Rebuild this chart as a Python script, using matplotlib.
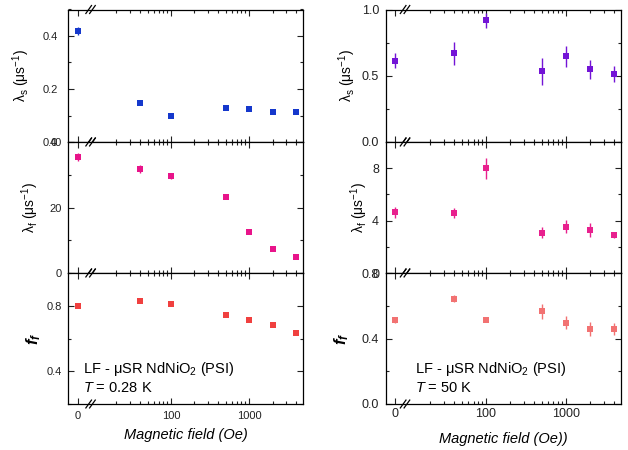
import numpy as np
import matplotlib
matplotlib.use('Agg')
import matplotlib.pyplot as plt
from matplotlib.ticker import FixedLocator, MultipleLocator, FixedFormatter, NullFormatter

plt.rcParams['font.family'] = ['Liberation Sans', 'DejaVu Sans']
plt.rcParams['mathtext.fontset'] = 'custom'
plt.rcParams['mathtext.rm'] = 'Liberation Sans'
plt.rcParams['mathtext.it'] = 'Liberation Sans:italic'
plt.rcParams['mathtext.bf'] = 'Liberation Sans:italic:bold'

# ---------------- data ----------------
field = [0, 40, 100, 500, 1000, 2000, 4000]   # Oe

# T = 0.28 K
lam_s_low = [0.419, 0.147, 0.099, 0.130, 0.123, 0.113, 0.112]
lam_s_low_err = [0.014, 0.008, 0.007, 0.007, 0.007, 0.007, 0.007]
lam_f_low = [35.5, 31.7, 29.5, 23.2, 12.5, 7.25, 5.0]
lam_f_low_err = [1.2, 1.2, 0.8, 0.5, 0.5, 0.5, 0.4]
ff_low = [0.800, 0.828, 0.813, 0.744, 0.713, 0.680, 0.632]
ff_low_err = [0.008, 0.008, 0.008, 0.007, 0.007, 0.007, 0.007]

# T = 50 K
lam_s_high = [0.615, 0.668, 0.919, 0.533, 0.647, 0.548, 0.513]
lam_s_high_err = [0.053, 0.089, 0.056, 0.100, 0.081, 0.072, 0.058]
lam_f_high = [4.63, 4.58, 8.0, 3.08, 3.54, 3.28, 2.88]
lam_f_high_err = [0.43, 0.41, 0.81, 0.43, 0.52, 0.56, 0.23]
ff_high = [0.513, 0.642, 0.511, 0.566, 0.497, 0.460, 0.458]
ff_high_err = [0.016, 0.022, 0.012, 0.045, 0.041, 0.042, 0.034]

xtick_labels = ['0', '100', '1000']
minor_x = [20, 30, 40, 50, 60, 70, 80, 90,
           200, 300, 400, 500, 600, 700, 800, 900,
           2000, 3000, 4000]

# ---------------- figure ----------------
W, H = 628, 450
fig = plt.figure(figsize=(W / 100, H / 100), dpi=100)

def px_axes(x0, x1, y0, y1):
    return fig.add_axes([x0 / W, 1 - y1 / H, (x1 - x0) / W, (y1 - y0) / H])

rows = [(9.5, 142), (142, 273), (273, 404)]

columns = [
    dict(x0=68, x1=303, xlim=(4.78, 4920), zero=6.42, brk=0.096,
         tick_fs=8, label_fs=10, xlabel='Magnetic field (Oe)', temp='$T$ = 0.28 K',
         txt_x=0.064, xlab_y=-0.18, xpad=5,
         panels=[
             dict(y=lam_s_low, e=lam_s_low_err, c='#1538cc', ylim=(0, 0.5), maj=0.2, mnr=0.1,
                  ylabel='λ$_{\\rm s}$ (μs$^{-1}$)', lx=-0.155, ypad=7.5, lfs=10),
             dict(y=lam_f_low, e=lam_f_low_err, c='#e8148a', ylim=(0, 40), maj=20, mnr=10,
                  ylabel='λ$_{\\rm f}$ (μs$^{-1}$)', lx=-0.115, ypad=4.5, lfs=10),
             dict(y=ff_low, e=ff_low_err, c='#f0403f', ylim=(0.2, 1.0), maj=0.4, mnr=0.2,
                  ylabel='$\\mathbf{f}_{\\mathbf{f}}$', lx=-0.105, ypad=4.5, lfs=12),
         ]),
    dict(x0=386, x1=621, xlim=(5.56, 4940), zero=7.2, brk=0.081,
         tick_fs=9, label_fs=10, xlabel='Magnetic field (Oe))', temp='$T$ = 50 K',
         txt_x=0.123, xlab_y=-0.21, xpad=3,
         panels=[
             dict(y=lam_s_high, e=lam_s_high_err, c='#7314d6', ylim=(0, 1.0), maj=0.5, mnr=0.25,
                  ylabel='λ$_{\\rm s}$ (μs$^{-1}$)', lx=-0.12, ypad=5, lfs=10),
             dict(y=lam_f_high, e=lam_f_high_err, c='#e8208e', ylim=(0, 10), maj=4, mnr=2,
                  ylabel='λ$_{\\rm f}$ (μs$^{-1}$)', lx=-0.07, ypad=5, lfs=10),
             dict(y=ff_high, e=ff_high_err, c='#f27272', ylim=(0, 0.8), maj=0.4, mnr=0.2,
                  ylabel='$\\mathbf{f}_{\\mathbf{f}}$', lx=-0.15, ypad=5, lfs=12),
         ]),
]

field_arr = np.array(field, dtype=float)

for col in columns:
    xpos = np.where(field_arr == 0, col['zero'], field_arr)
    for i, ((y0, y1), p) in enumerate(zip(rows, col['panels'])):
        ax = px_axes(col['x0'], col['x1'], y0, y1)
        ax.set_xscale('log')
        ax.set_xlim(*col['xlim'])
        ax.set_ylim(*p['ylim'])
        ax.errorbar(xpos, p['y'], yerr=p['e'], fmt='s', color=p['c'], ms=5,
                    elinewidth=1.0, capsize=2.0, capthick=1.0, mew=0)
        # x ticks
        ax.xaxis.set_major_locator(FixedLocator([col['zero'], 100, 1000]))
        ax.xaxis.set_minor_locator(FixedLocator(minor_x))
        ax.xaxis.set_minor_formatter(NullFormatter())
        if i == 2:
            ax.xaxis.set_major_formatter(FixedFormatter(xtick_labels))
        else:
            ax.xaxis.set_major_formatter(NullFormatter())
        ax.yaxis.set_major_locator(MultipleLocator(p['maj']))
        ax.yaxis.set_minor_locator(MultipleLocator(p['mnr']))
        ax.tick_params(which='both', direction='in', top=True, right=True,
                       labelsize=col['tick_fs'], width=0.8, colors='#222222')
        ax.tick_params(which='major', length=4)
        ax.tick_params(which='minor', length=2.5)
        ax.tick_params(axis='y', pad=p['ypad'])
        ax.tick_params(axis='x', pad=col['xpad'])
        for s in ax.spines.values():
            s.set_linewidth(0.9)
        ax.set_ylabel(p['ylabel'], fontsize=p['lfs'])
        ax.yaxis.set_label_coords(p['lx'], 0.5)
        # axis-break marks
        dx, dy, sep = 0.012, 0.03, 0.016
        for yb in (0, 1):
            for k in (-0.5, 0.5):
                xc = col['brk'] + k * sep
                ax.plot([xc - dx, xc + dx], [yb - dy, yb + dy], transform=ax.transAxes,
                        color='black', lw=0.9, clip_on=False)
        if i == 2:
            ax.set_xlabel(col['xlabel'], fontsize=10.5, style='italic')
            ax.xaxis.set_label_coords(0.5, col['xlab_y'])
            ax.text(col['txt_x'], 0.27, 'LF - μSR NdNiO$_2$ (PSI)', transform=ax.transAxes,
                    fontsize=10.5, va='center', ha='left')
            ax.text(col['txt_x'], 0.125, col['temp'], transform=ax.transAxes,
                    fontsize=10.5, va='center', ha='left')

fig.savefig('out.png', dpi=100)
